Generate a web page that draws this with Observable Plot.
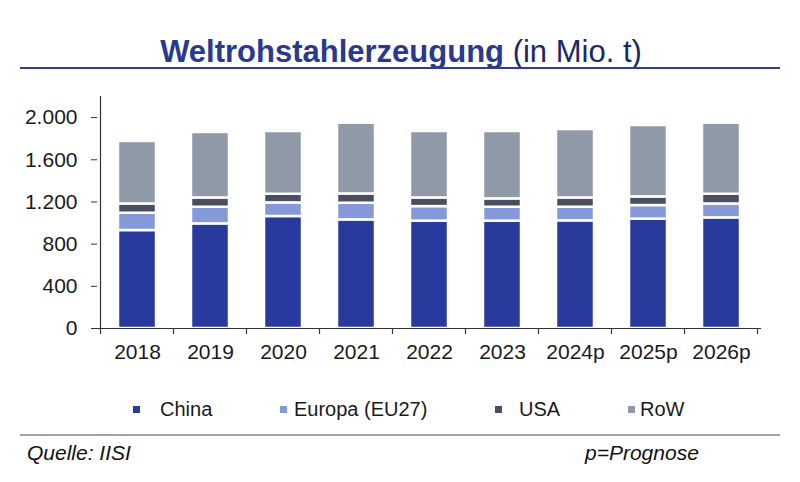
<!DOCTYPE html>
<html>
<head>
<meta charset="utf-8">
<script src="https://cdn.jsdelivr.net/npm/d3@7"></script>
<script src="https://cdn.jsdelivr.net/npm/@observablehq/plot@0.6"></script>
<style>
  html, body { margin: 0; padding: 0; background: #fff; }
  body { width: 800px; height: 482px; position: relative; overflow: hidden; font-family: "Liberation Sans", Arial, sans-serif; color: #1a1a1a; }
  .abs { position: absolute; white-space: nowrap; }
  #title { left: 0; width: 802px; text-align: center; top: 36px; font-size: 31px; line-height: 31px; }
  #title b { color: #28398f; font-weight: bold; }
  #title span { color: #1d2866; }
  #titleLine { left: 20px; width: 760px; top: 67px; height: 2px; background: #2e3d8f; }
  #chart { left: 0; top: 85px; }
  .leg { font-size: 20px; line-height: 20px; top: 399px; }
  .sw { width: 7px; height: 7px; top: 406px; }
  #footLine { left: 20px; width: 760px; top: 434px; height: 1.5px; background: #a3a3a3; }
  .foot { font-size: 21px; line-height: 21px; top: 442px; font-style: italic; color: #111; }
</style>
</head>
<body>
<div id="title" class="abs"></div>
<div id="titleLine" class="abs"></div>
<div id="chart" class="abs"></div>
<div id="legend"></div>
<div id="footLine" class="abs"></div>
<div id="footL" class="abs foot" style="left:27px"></div>
<div id="footR" class="abs foot" style="left:585px"></div>
<script>
// ---- data ----
const titleMain = "Weltrohstahlerzeugung";
const titleUnit = "(in Mio. t)";
const sourceText = "Quelle: IISI";
const noteText = "p=Prognose";
const years = ["2018", "2019", "2020", "2021", "2022", "2023", "2024p", "2025p", "2026p"];
const seriesNames = ["China", "Europa (EU27)", "USA", "RoW"];
const china  = [929, 992, 1062, 1030, 1018, 1018, 1021, 1037, 1049];
const europa = [164, 158, 129, 158, 138, 132, 129, 129, 132];
const usa    = [88, 88, 82, 88, 82, 79, 88, 82, 92];
const row    = [593, 621, 595, 671, 630, 639, 649, 677, 674];
const yTicks = [0, 400, 800, 1200, 1600, 2000];

// ---- styling / layout ----
const colors = ["#283a9b", "#8599d9", "#4a4e5e", "#8f99a8"];
const legendSwatchX = [133, 280, 495, 628];
const legendTextX = [160, 294, 519, 640];

const seriesValues = [china, europa, usa, row];
const table = years.flatMap((y, i) => seriesNames.map((s, k) => ({year: y, series: s, value: seriesValues[k][i]})));

const fmt = d3.formatLocale({decimal: ",", thousands: ".", grouping: [3], currency: ["", "€"]}).format(",");

const tEl = document.getElementById("title");
const b = document.createElement("b"); b.textContent = titleMain; tEl.appendChild(b);
const sp = document.createElement("span"); sp.textContent = " " + titleUnit; tEl.appendChild(sp);
document.getElementById("footL").textContent = sourceText;
document.getElementById("footR").textContent = noteText;

const chart = Plot.plot({
  width: 800,
  height: 290,
  marginLeft: 97,
  marginRight: 39,
  marginTop: 11,
  marginBottom: 47,
  style: {fontFamily: "'Liberation Sans', Arial, sans-serif", color: "#1a1a1a", background: "transparent"},
  x: {domain: years, paddingInner: 0.48, paddingOuter: 0.24, axis: null, label: null},
  y: {domain: [0, 2200], axis: null, label: null},
  color: {domain: seriesNames, range: colors},
  marks: [
    Plot.barY(table, {x: "year", y: "value", fill: "series", stroke: "white", strokeWidth: 2.5}),
    Plot.axisY({ticks: yTicks, tickSize: 6, tickPadding: 14, tickFormat: fmt, fontSize: 21, stroke: "#333", fill: "#1a1a1a", label: null}),
    Plot.axisX({tickSize: 0, tickPadding: 16, fontSize: 21, fill: "#1a1a1a", label: null}),
    Plot.ruleY([0], {stroke: "#333", strokeWidth: 1.2})
  ]
});
document.getElementById("chart").appendChild(chart);

// band-boundary ticks and y-axis line, from the library's scales
const xs = chart.scale("x");
const ys = chart.scale("y");
const half = (xs.step - xs.bandwidth) / 2;
const y0 = ys.apply(0);
const yTop = ys.apply(2200);
const g = d3.select(chart).append("g").attr("stroke", "#333").attr("stroke-width", 1.2);
const bounds = years.map(y => xs.apply(y) - half).concat([xs.apply(years[years.length - 1]) + xs.bandwidth + half]);
g.selectAll("line.bt").data(bounds).join("line").attr("class", "bt")
  .attr("x1", d => d).attr("x2", d => d).attr("y1", y0).attr("y2", y0 + 6);
g.append("line").attr("x1", bounds[0]).attr("x2", bounds[0]).attr("y1", yTop).attr("y2", y0);

// legend
const leg = document.getElementById("legend");
seriesNames.forEach((s, i) => {
  const sw = document.createElement("div");
  sw.className = "abs sw";
  sw.style.left = legendSwatchX[i] + "px";
  sw.style.background = colors[i];
  leg.appendChild(sw);
  const t = document.createElement("div");
  t.className = "abs leg";
  t.style.left = legendTextX[i] + "px";
  t.textContent = s;
  leg.appendChild(t);
});
</script>
</body>
</html>
